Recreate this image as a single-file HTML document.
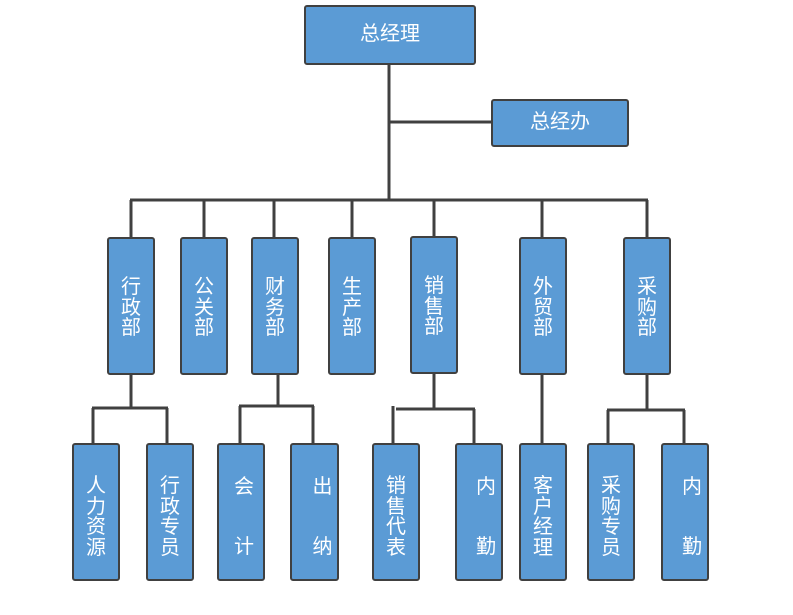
<!DOCTYPE html>
<html><head><meta charset="utf-8"><style>
body{margin:0;width:793px;height:615px;background:#fff;position:relative;overflow:hidden;font-family:"Liberation Sans","Noto Sans CJK SC",sans-serif;}
.b{position:absolute;box-sizing:border-box;background:#5b9bd5;border:2px solid #404040;border-radius:3px;color:#fff;}
.t{position:absolute;left:0;right:0;text-align:center;font-size:20px;line-height:20.5px;}
svg{position:absolute;left:0;top:0;}
</style></head><body>
<svg width="793" height="615" stroke="#404040" stroke-width="3" fill="none">
<path d="M389 64V200M389 122H491M130 200H648M131 200V237M204 200V237M274 200V237M352 200V237M434 200V237M542 200V237M647 200V237"/>
<path d="M131 374V408M92 408H168M93 408V443M167 408V443"/>
<path d="M278 374V406M239 406H314M240 406V443M313 406V443"/>
<path d="M434 374V409M396 409H475M474 409V443M393 406V443"/>
<path d="M542 374V443"/>
<path d="M647 374V410M607 410H685M608 410V443M684 410V443"/>
</svg>
<div class="b" style="left:304px;top:5px;width:172px;height:60px;"><div class="t" style="top:17px;">总经理</div></div>
<div class="b" style="left:491px;top:99px;width:138px;height:48px;"><div class="t" style="top:11px;">总经办</div></div>

<div class="b" style="left:107px;top:237px;width:48px;height:138px;"><div class="t" style="top:38px;">行<br>政<br>部</div></div>
<div class="b" style="left:180px;top:237px;width:48px;height:138px;"><div class="t" style="top:38px;">公<br>关<br>部</div></div>
<div class="b" style="left:251px;top:237px;width:48px;height:138px;"><div class="t" style="top:38px;">财<br>务<br>部</div></div>
<div class="b" style="left:328px;top:237px;width:48px;height:138px;"><div class="t" style="top:38px;">生<br>产<br>部</div></div>
<div class="b" style="left:410px;top:236px;width:48px;height:138px;"><div class="t" style="top:38px;">销<br>售<br>部</div></div>
<div class="b" style="left:519px;top:237px;width:48px;height:138px;"><div class="t" style="top:38px;">外<br>贸<br>部</div></div>
<div class="b" style="left:623px;top:237px;width:48px;height:138px;"><div class="t" style="top:38px;">采<br>购<br>部</div></div>

<div class="b" style="left:72px;top:443px;width:48px;height:138px;"><div class="t" style="top:31px;">人<br>力<br>资<br>源</div></div>
<div class="b" style="left:146px;top:443px;width:48px;height:138px;"><div class="t" style="top:31px;">行<br>政<br>专<br>员</div></div>
<div class="b" style="left:217px;top:443px;width:48px;height:138px;"><div class="t" style="top:32px;left:6px;">会</div><div class="t" style="top:92px;left:6px;">计</div></div>
<div class="b" style="left:290px;top:443px;width:49px;height:138px;"><div class="t" style="top:32px;left:16px;">出</div><div class="t" style="top:92px;left:16px;">纳</div></div>
<div class="b" style="left:372px;top:443px;width:48px;height:138px;"><div class="t" style="top:31px;">销<br>售<br>代<br>表</div></div>
<div class="b" style="left:455px;top:443px;width:48px;height:138px;"><div class="t" style="top:32px;left:14px;">内</div><div class="t" style="top:92px;left:14px;">勤</div></div>
<div class="b" style="left:519px;top:443px;width:48px;height:138px;"><div class="t" style="top:31px;">客<br>户<br>经<br>理</div></div>
<div class="b" style="left:587px;top:443px;width:48px;height:138px;"><div class="t" style="top:31px;">采<br>购<br>专<br>员</div></div>
<div class="b" style="left:661px;top:443px;width:48px;height:138px;"><div class="t" style="top:32px;left:14px;">内</div><div class="t" style="top:92px;left:14px;">勤</div></div>
</body></html>
